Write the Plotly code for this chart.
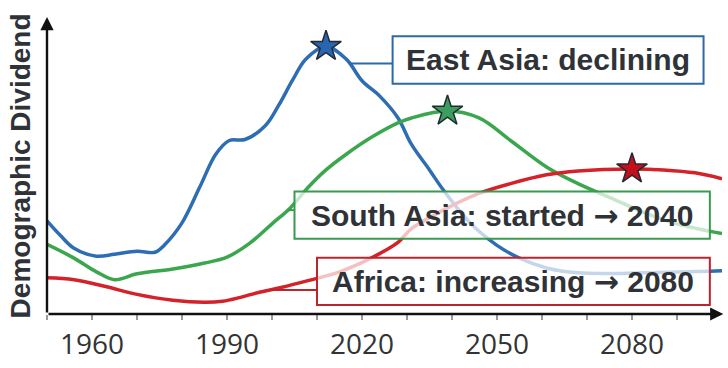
import numpy as np
import plotly.graph_objects as go

# ---- data (index units) ----
ea_years = [1950, 1953, 1956, 1961, 1965, 1970, 1974, 1976, 1980, 1984, 1987.5, 1990.5, 1994,
            1998.5, 2001.5, 2004.5, 2007.5, 2012, 2016.5, 2020, 2024, 2028, 2031, 2035, 2038,
            2044, 2050, 2055, 2061, 2068, 2083, 2100]
ea_vals = [95, 80, 67, 59, 61, 64, 63, 70, 93, 130, 163, 177, 178,
           192, 213, 238, 260, 273, 260, 238, 222, 200, 173, 147, 127,
           93, 70, 57, 47, 42, 42, 44]

sa_years = [1950, 1956, 1961, 1965, 1970, 1978, 1985, 1990, 1995, 2000, 2004, 2008, 2012,
            2016.5, 2022, 2028, 2031, 2039, 2046, 2053, 2061, 2068, 2076, 2083, 2090, 2100]
sa_vals = [71, 57, 43, 35, 41, 46, 52, 58, 72, 92, 108, 129, 147,
           163, 180, 195, 200, 207, 200, 177, 150, 133, 117, 103, 92, 82]

af_years = [1950, 1956, 1963, 1970, 1978, 1985, 1989, 1993, 1997, 2002, 2008, 2015, 2022, 2028,
            2031, 2038.5, 2046, 2053, 2061, 2068, 2080, 2087, 2094, 2100]
af_vals = [37, 35, 28, 20, 14, 12, 13, 17, 22, 27, 34, 43, 57, 73,
           87, 107, 123, 133, 142, 146, 148, 147, 144, 138]

x_tick_vals = [1950, 1960, 1970, 1980, 1990, 2000, 2010, 2020, 2030, 2040, 2050, 2060, 2070, 2080, 2090]
x_tick_text = ["", "1960", "", "", "1990", "", "", "2020", "", "", "2050", "", "", "2080", ""]

ARROW = "<span style='font-family:DejaVu Sans'>\u2192</span>"
labels = ["East Asia: declining", "South Asia: started " + ARROW + " 2040", "Africa: increasing " + ARROW + " 2080"]

# ---- styling ----
BLUE, GREEN, RED = "#2f6db3", "#3ba64e", "#d3222a"
BOX_COLORS = ["#2d69a6", "#3a9a50", "#bb262d"]
STAR_COLORS = ["#2a66b0", "#3c9e5c", "#c40f1c"]
TXT = "#2f3338"
FONT = "Liberation Sans, Arial, sans-serif"

series = [(ea_years, ea_vals, BLUE), (sa_years, sa_vals, GREEN), (af_years, af_vals, RED)]

fig = go.Figure()
for (xs, ys, c) in series:
    fig.add_trace(go.Scatter(x=xs, y=ys, mode="lines", line=dict(color=c, width=3.5, shape="spline", smoothing=1.0),
                             hoverinfo="skip", showlegend=False))

# peak stars
for (xs, ys, c), sc in zip(series, STAR_COLORS):
    i = int(np.argmax(ys))
    fig.add_trace(go.Scatter(x=[xs[i]], y=[ys[i]], mode="markers",
                             marker=dict(symbol="star", size=23, color=sc, line=dict(color="#222a33", width=1.5)),
                             hoverinfo="skip", showlegend=False))

# label boxes (x0, x1, y0, y1) and connector start years
boxes = [(2026.8, 2095.9, 235, 283.3), (2005.0, 2097.3, 76.7, 125), (2010.0, 2097.3, 9.3, 57.3)]
conn_years = [2017.2, 2003.5, 1999.5]

shapes = []
annotations = []
for (xs, ys, c), bc, (x0, x1, y0, y1), cy, lab in zip(series, BOX_COLORS, boxes, conn_years, labels):
    yc = float(np.interp(cy, xs, ys))
    shapes.append(dict(type="line", xref="x", yref="y", x0=cy, x1=x0, y0=yc, y1=yc,
                       line=dict(color=bc, width=2), layer="above"))
    shapes.append(dict(type="rect", xref="x", yref="y", x0=x0, x1=x1, y0=y0, y1=y1,
                       line=dict(color=bc, width=2), fillcolor="rgba(255,255,255,0.72)", layer="above"))
    annotations.append(dict(x=(x0 + x1) / 2, y=(y0 + y1) / 2, xref="x", yref="y", text="<b>" + lab + "</b>",
                            showarrow=False, font=dict(family=FONT, size=30, color=TXT),
                            xanchor="center", yanchor="middle"))

# axis arrows
annotations.append(dict(x=2100.3, y=0, ax=1950, ay=0, xref="x", yref="y", axref="x", ayref="y", text="",
                        showarrow=True, arrowhead=2, arrowsize=1.1, arrowwidth=2.4, arrowcolor="#111111"))
annotations.append(dict(x=1950, y=303, ax=1950, ay=0, xref="x", yref="y", axref="x", ayref="y", text="",
                        showarrow=True, arrowhead=2, arrowsize=1.1, arrowwidth=2.4, arrowcolor="#111111"))

# y-axis title
annotations.append(dict(x=-0.04, y=0.497, xref="paper", yref="paper", text="<b>Demographic Dividend</b>",
                        textangle=-90, showarrow=False, font=dict(family=FONT, size=28, color=TXT),
                        xanchor="center", yanchor="middle"))

fig.update_layout(
    width=728, height=368,
    margin=dict(l=47, r=6, t=17, b=48),
    plot_bgcolor="white", paper_bgcolor="white",
    shapes=shapes, annotations=annotations,
    xaxis=dict(range=[1950, 2100], tickvals=x_tick_vals, ticktext=x_tick_text, ticks="outside",
               ticklen=5, tickwidth=1.5, tickcolor="#9a9a9a", showgrid=False, zeroline=False, showline=False,
               tickfont=dict(family="Open Sans, sans-serif", size=28, color="#333333")),
    yaxis=dict(range=[0, 303], showticklabels=False, ticks="", showgrid=False, zeroline=False, showline=False),
)

fig.write_html("out.html", config={"displayModeBar": False},
               post_script="document.body.style.margin='0';document.body.style.overflow='hidden';")
